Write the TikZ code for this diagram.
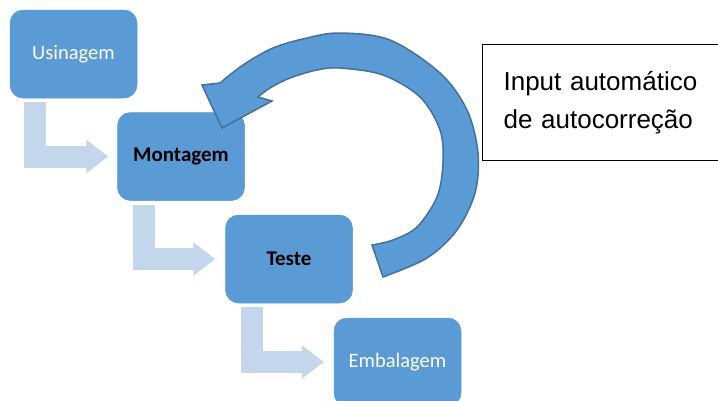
\documentclass[tikz,border=0pt]{standalone}
\usepackage{fontspec}
\setmainfont{Carlito}
\newfontfamily\arialfont{Liberation Sans}
\usetikzlibrary{arrows.meta,calc}
\definecolor{boxblue}{HTML}{5B9BD5}
\definecolor{arcedge}{HTML}{41719C}
\definecolor{lightarrow}{RGB}{196,214,236}
\tikzset{
  stagebox/.style={rectangle, rounded corners=13pt, fill=boxblue, draw=boxblue, line width=0.5pt,
    minimum width=127, minimum height=88, inner sep=0pt, font=\fontsize{20.5}{24}\selectfont},
  lighttext/.style={text=white},
  darktext/.style={text=black, font=\fontsize{21}{24}\selectfont\bfseries},
  bentarrow/.style={draw=lightarrow, line width=22pt, line join=miter,
    -{Triangle[length=22pt,width=32pt]}},
  circarrow/.style={fill=boxblue, draw=arcedge, line width=1.5pt, line join=miter},
  notebox/.style={rectangle, draw=black, line width=1.2pt, anchor=north west,
    minimum height=116, text width=218pt, inner xsep=21pt, align=left,
    font=\arialfont\fontsize{26}{38}\selectfont}
}
\begin{document}
\begin{tikzpicture}[x=1pt,y=-1pt]
\path[use as bounding box, clip] (0,0) rectangle (718,400);
\fill[white] (0,0) rectangle (718,400);

\node[stagebox, lighttext] (u) at (73.5,54) {Usinagem};
\node[stagebox, darktext] (m) at (181,156.5) {Montagem};
\node[stagebox, darktext] (t) at (289,259) {Teste};
\node[stagebox, lighttext] (e) at (397.5,362) {Embalagem};

\draw[bentarrow] ($(u.south west)+(25,4)$) |- ($(m.west)+(-9,0)$);
\draw[bentarrow] ($(m.south west)+(27,4)$) |- ($(t.west)+(-10,0)$);
\draw[bentarrow] ($(t.south west)+(27,4)$) |- ($(e.west)+(-10,0)$);

\node[notebox] (n) at (482,44) {Input automático\\de autocorreção};

\draw[circarrow]
  plot[smooth, tension=0.55] coordinates {(220,83) (243,65) (273,48) (307,38) (340,33) (390,40) (440,73) (467,110) (478,153) (475,193) (457,230) (427,258) (383,277)}
  -- (372,245)
  -- plot[smooth, tension=0.55] coordinates {(372,245) (393,240) (417,227) (437,197) (443,163) (440,130) (420,97) (383,75) (340,68) (317,70) (290,78) (270,88) (258,97)}
  -- (272,101) -- (222,128) -- (202,85) -- cycle;
\end{tikzpicture}
\end{document}
